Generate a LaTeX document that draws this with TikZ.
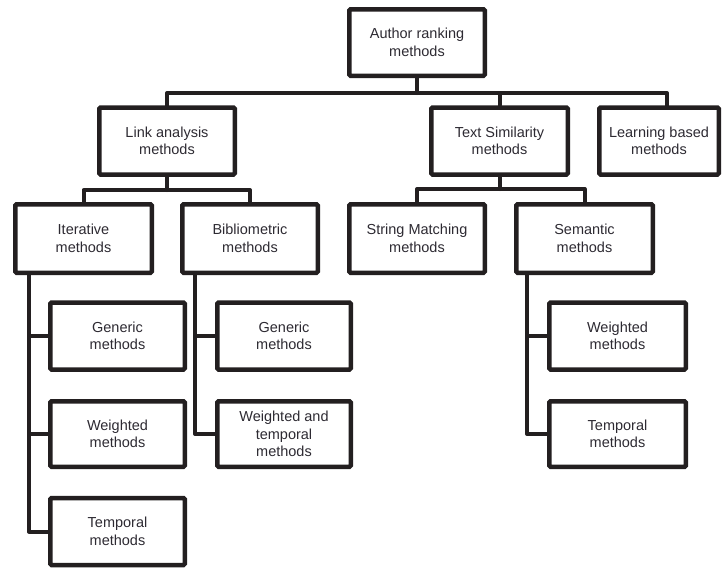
\documentclass[tikz,border=0pt]{standalone}
\usepackage{fontspec}
\setmainfont{Liberation Sans}
\definecolor{inkc}{RGB}{35,31,32}
\definecolor{txtc}{RGB}{45,42,50}
\begin{document}
\begin{tikzpicture}[x=1pt,y=-1pt,
  ink/.style={draw=inkc},
  box/.style={ink, line width=4.5pt, rounded corners=1.2pt, rectangle, inner sep=0pt,
    minimum height=67pt, align=center, text=txtc,
    font=\fontsize{14.5}{17.5}\selectfont},
  conn/.style={ink, line width=4pt, line join=round, line cap=round}]
\useasboundingbox (0,0) rectangle (725,568);
% row 1
\node[box, minimum width=135.5pt, minimum height=66.5pt] (author) at (417,42.5) {Author ranking\\methods};
% row 2
\node[box, minimum width=135.5pt] (link) at (167,141) {Link analysis\\methods};
\node[box, minimum width=136.5pt] (textsim) at (499.5,141) {Text Similarity\\methods};
\node[box, minimum width=119.5pt] (learn) at (659,141) {Learning based\\methods};
% row 3
\node[box, minimum width=136.5pt, minimum height=68.5pt] (iter) at (83.5,238.5) {Iterative\\methods};
\node[box, minimum width=135.5pt, minimum height=68.5pt] (biblio) at (250,238.5) {Bibliometric\\methods};
\node[box, minimum width=135.5pt, minimum height=68.5pt] (string) at (417,238.5) {String Matching\\methods};
\node[box, minimum width=136.5pt, minimum height=68.5pt] (sem) at (584.5,238.5) {Semantic\\methods};
% row 4
\node[box, minimum width=134.5pt] (igen) at (117.5,336) {Generic\\methods};
\node[box, minimum width=134.5pt, minimum height=65.5pt] (iwei) at (117.5,434) {Weighted\\methods};
\node[box, minimum width=134.5pt] (item) at (117.5,531.5) {Temporal\\methods};
\node[box, minimum width=133.5pt] (bgen) at (284,336) {Generic\\methods};
\node[box, minimum width=133.5pt, minimum height=65.5pt] (bwt) at (284,434) {Weighted and\\temporal\\methods};
\node[box, minimum width=136.5pt] (swei) at (617.5,336) {Weighted\\methods};
\node[box, minimum width=136.5pt, minimum height=65.5pt] (stem) at (617.5,434) {Temporal\\methods};
% bus coordinates
\coordinate (b1) at (417,93);
\coordinate (b2) at (167,190);
\coordinate (b3) at (499.5,189);
\coordinate (c1) at (29,0);
\coordinate (c2) at (195,0);
\coordinate (c3) at (527,0);
% top level
\draw[conn] (author.south) -- (b1);
\draw[conn] (link.north) -- (link.north |- b1) -- ([xshift=8pt]learn.north |- b1) -- ([xshift=8pt]learn.north);
\draw[conn] (textsim.north) -- (textsim.north |- b1);
% link analysis
\draw[conn] (link.south) -- (b2);
\draw[conn] (iter.north) -- (iter.north |- b2) -- (biblio.north |- b2) -- (biblio.north);
% text similarity
\draw[conn] (textsim.south) -- (b3);
\draw[conn] (string.north) -- (string.north |- b3) -- (sem.north |- b3) -- (sem.north);
% iterative children
\draw[conn] (iter.south -| c1) |- (item.west);
\draw[conn] (igen.west) -- (igen.west -| c1);
\draw[conn] (iwei.west) -- (iwei.west -| c1);
% bibliometric children
\draw[conn] (biblio.south -| c2) |- (bwt.west);
\draw[conn] (bgen.west) -- (bgen.west -| c2);
% semantic children
\draw[conn] (sem.south -| c3) |- (stem.west);
\draw[conn] (swei.west) -- (swei.west -| c3);
\end{tikzpicture}
\end{document}
